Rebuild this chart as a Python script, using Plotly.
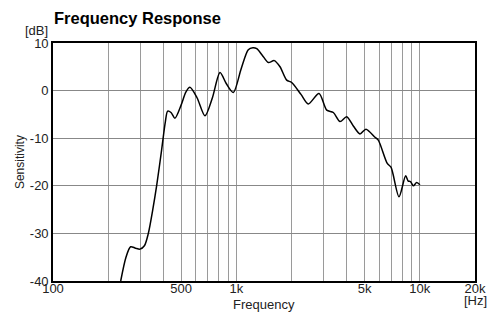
import plotly.graph_objects as go

freq_hz = [234, 250, 265, 282, 298, 315, 331, 350, 368, 391, 410, 422, 440, 462, 500, 530, 558, 610, 674, 740, 814, 880, 962,
           1060, 1161, 1230, 1291, 1380, 1493, 1609, 1729, 1880, 2002, 2250, 2466, 2821, 3108, 3377, 3673, 3993, 4350,
           4720, 5088, 5698, 5939, 6649, 6966, 7702, 8375, 8653, 8900, 9218, 9620, 10020]
sens_db = [-40, -35.0, -32.8, -33.1, -33.3, -32.6, -30.0, -25.0, -19.8, -12.5, -6.5, -4.3, -4.6, -5.8, -3.0, -0.3, 0.7, -1.5, -5.3, -1.5, 3.8, 1.5, -0.4,
           4.5, 8.6, 9.0, 8.8, 7.5, 5.9, 6.3, 5.0, 2.2, 1.7, -0.8, -2.8, -0.6, -4.1, -4.6, -6.5, -5.5, -7.5,
           -9.1, -8.1, -9.8, -10.4, -15.3, -16.1, -22.3, -17.9, -19.0, -19.1, -20.0, -19.3, -19.8]

grid_x = [100, 200, 300, 400, 500, 600, 700, 800, 900, 1000, 2000, 3000, 4000, 5000, 6000, 7000, 8000, 9000, 10000, 20000]
x_labels = {100: "100", 500: "500", 1000: "1k", 5000: "5k", 10000: "10k", 20000: "20k"}
y_ticks = [-40, -30, -20, -10, 0, 10]
y_labels = ["-40", "-30", "-20", "-10", "0", "10"]

FONT = "Liberation Sans, Arial, Helvetica, sans-serif"

fig = go.Figure()
fig.add_trace(go.Scatter(x=freq_hz, y=sens_db, mode="lines",
                         line=dict(color="black", width=1.5, shape="spline", smoothing=0.8),
                         showlegend=False, hoverinfo="skip"))

fig.update_layout(
    width=487, height=314,
    margin=dict(l=53, r=12, t=43, b=33),
    paper_bgcolor="white", plot_bgcolor="white",
    font=dict(family=FONT, size=13, color="#222"),
    xaxis=dict(type="log", range=[2, 4.30103], tickmode="array", tickvals=grid_x,
               ticktext=[x_labels.get(v, "") for v in grid_x], automargin=False,
               showgrid=True, gridcolor="#9a9a9a", gridwidth=1, ticklabelstandoff=-5,
               ticks="", showline=True, linecolor="black", linewidth=1.8, mirror=True,
               zeroline=False, fixedrange=True, tickfont=dict(size=13, color="#222")),
    yaxis=dict(range=[-40, 10], tickmode="array", tickvals=y_ticks, ticktext=y_labels,
               automargin=False,
               showgrid=True, gridcolor="#888888", gridwidth=1,
               ticks="", showline=True, linecolor="black", linewidth=1.8, mirror=True,
               zeroline=False, fixedrange=True, tickfont=dict(size=13, color="#222")),
    annotations=[
        dict(text="<b>Frequency Response</b>", xref="paper", yref="paper", x=-0.002, y=1.0,
             yshift=25, xanchor="left", yanchor="middle", showarrow=False,
             font=dict(size=16.5, color="black", family=FONT)),
        dict(text="[dB]", xref="paper", yref="paper", x=-0.039, y=1.0, yshift=13,
             xanchor="center", yanchor="middle", showarrow=False, font=dict(size=13, color="#222")),
        dict(text="Sensitivity", xref="paper", yref="paper", x=-0.078, y=0.5, textangle=-90,
             xanchor="center", yanchor="middle", showarrow=False, font=dict(size=12, color="#222")),
        dict(text="Frequency", xref="paper", yref="paper", x=0.5, y=0.0, yshift=-23,
             xanchor="center", yanchor="middle", showarrow=False, font=dict(size=13, color="#222")),
        dict(text="[Hz]", xref="paper", yref="paper", x=1.0, y=0.0, yshift=-19,
             xanchor="center", yanchor="middle", showarrow=False, font=dict(size=13, color="#222")),
    ],
)

fig.write_html("out.html", config={"displayModeBar": False, "staticPlot": True},
               post_script="document.body.style.margin='0';document.body.style.padding='0';")
